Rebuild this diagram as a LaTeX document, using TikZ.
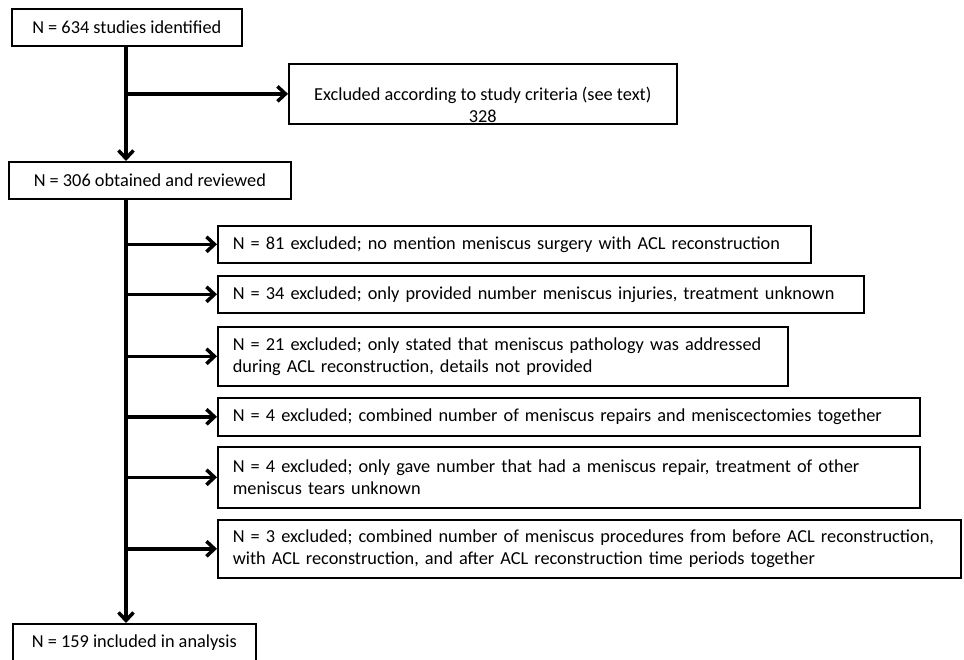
\documentclass[tikz,border=0pt]{standalone}
\usepackage{fontspec}
\setmainfont{Carlito}
\usetikzlibrary{arrows.meta}
\tikzset{
  flowbox/.style={draw, line width=1.6pt, rectangle, anchor=north west, inner sep=0pt,
    font=\fontsize{18.3}{22}\selectfont},
  midbox/.style={flowbox, align=center},
  exbox/.style={flowbox, align=left, inner xsep=15pt, text width=#1},
  arr/.style={line width=3.5pt, -{Straight Barb[length=8pt,width=15pt]}},
}
\begin{document}
\begin{tikzpicture}[x=1pt, y=-1pt]
\useasboundingbox (0,0) rectangle (964,659);

% Search and first screening
\node[midbox, minimum width=230pt, minimum height=37pt] (studies) at (11,8) {N = 634 studies identified};
\node[midbox, minimum width=388pt, minimum height=60pt, inner ysep=1.5pt] (criteria) at (288,63)
  {\rule{0pt}{35pt}Excluded according to study criteria (see text)\\328};
\node[midbox, minimum width=282pt, minimum height=37pt] (obtained) at (8,161) {N = 306 obtained and reviewed};

% Exclusions after review
\node[exbox=563pt, minimum height=37pt] (ex81) at (217,225)
  {N = 81 excluded; no mention meniscus surgery with ACL reconstruction};
\node[exbox=616pt, minimum height=37pt] (ex34) at (217,275)
  {N = 34 excluded; only provided number meniscus injuries, treatment unknown};
\node[exbox=540pt, minimum height=59pt] (ex21) at (217,326)
  {N = 21 excluded; only stated that meniscus pathology was addressed\\during ACL reconstruction, details not provided};
\node[exbox=672pt, minimum height=38pt] (ex4a) at (217,397)
  {N = 4 excluded; combined number of meniscus repairs and meniscectomies together};
\node[exbox=672pt, minimum height=61pt] (ex4b) at (217,446)
  {N = 4 excluded; only gave number that had a meniscus repair, treatment of other\\meniscus tears unknown};
\node[exbox=713pt, minimum height=58pt] (ex3) at (217,519)
  {N = 3 excluded; combined number of meniscus procedures from before ACL reconstruction,\\with ACL reconstruction, and after ACL reconstruction time periods together};

% Final pool
\node[midbox, minimum width=243pt, minimum height=38pt] (included) at (12,623) {N = 159 included in analysis};

% Trunk and branches
\coordinate (trunk) at (126,0);
\draw[arr] (studies.south -| trunk) -- (obtained.north -| trunk);
\draw[arr] (obtained.south -| trunk) -- (included.north -| trunk);
\foreach \b in {criteria, ex81, ex34, ex21, ex4a, ex4b, ex3}
  \draw[arr] (\b.west -| trunk) -- (\b.west);
\end{tikzpicture}
\end{document}
